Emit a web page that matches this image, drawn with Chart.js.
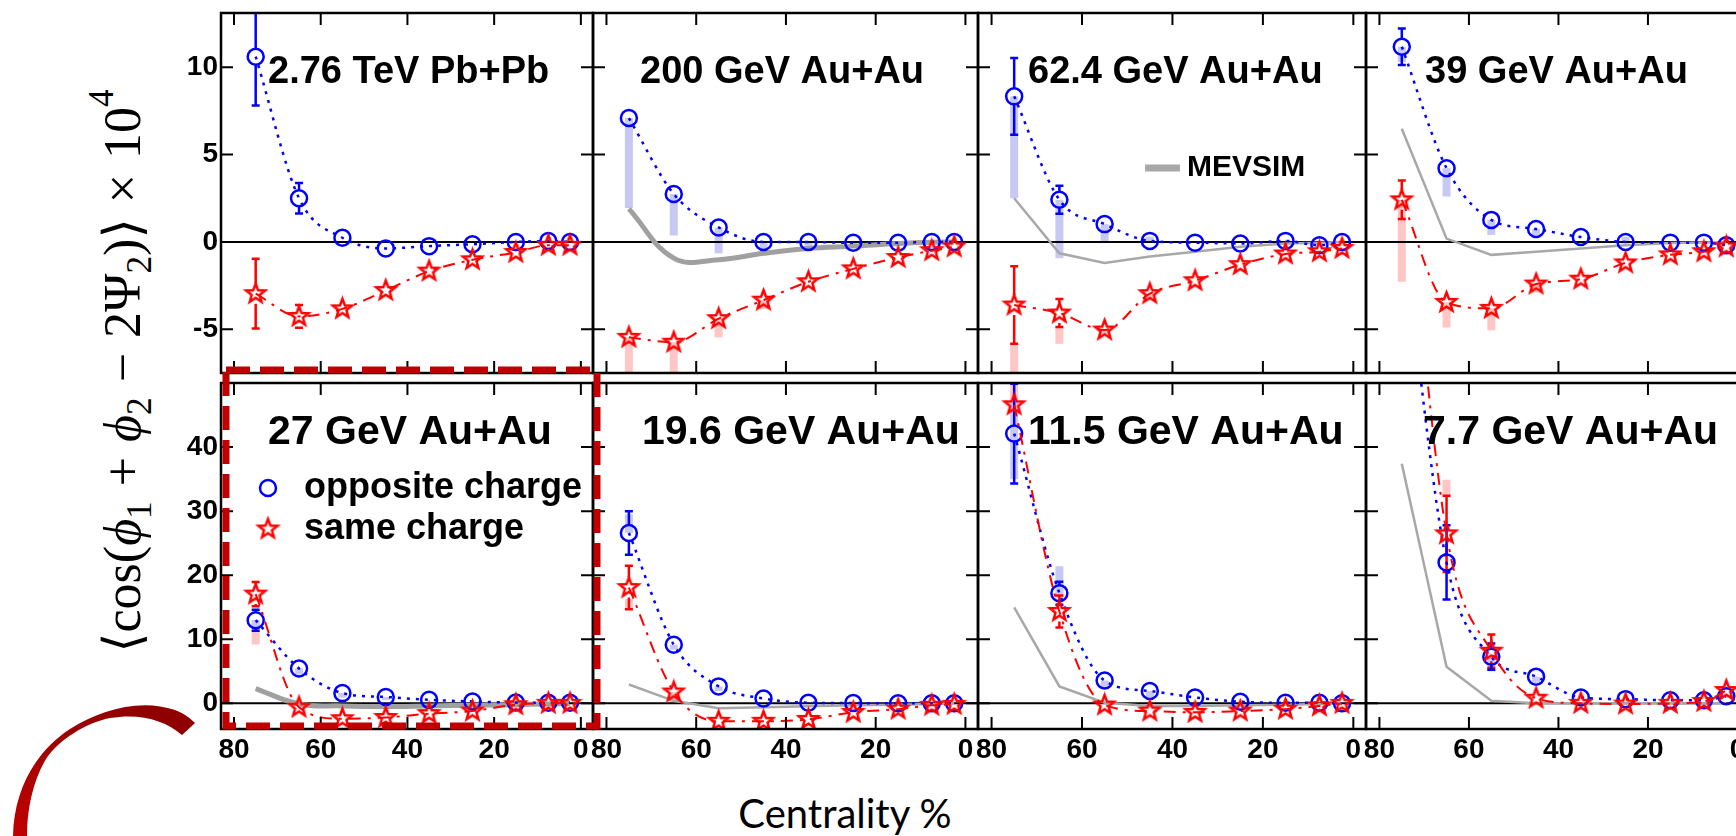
<!DOCTYPE html>
<html lang="en">
  <head>
    <meta charset="UTF-8" />
    <title>Charge-dependent azimuthal correlator vs centrality</title>
    <script src="https://cdn.jsdelivr.net/npm/chart.js@4.4.1/dist/chart.umd.min.js"></script>
    <style>
      html, body { margin: 0; padding: 0; background: #fff; overflow: hidden; }
      body { width: 1736px; height: 836px; position: relative; }
      canvas { position: absolute; }
      #ytitle {
        position: absolute; left: 120px; top: 371px;
        transform: translate(-50%, -50%) rotate(-90deg);
        font-family: "Liberation Serif", "DejaVu Serif", serif;
        font-size: 52px; white-space: nowrap; color: #000;
        word-spacing: 2px;
      }
      #ytitle sub { font-size: 0.68em; vertical-align: -0.3em; }
      #ytitle sup { font-size: 0.68em; vertical-align: 0.75em; }
      #xtitle {
        position: absolute; left: 845px; top: 813px;
        transform: translate(-50%, -50%);
        font-family: Lato, "Open Sans", sans-serif; font-size: 40px;
        white-space: nowrap; color: #000;
      }
      svg { position: absolute; left: 0; top: 0; }
    </style>
  </head>
  <body>
    <div id="panels"></div>
    <div id="ytitle">⟨cos(<i>ϕ</i><sub>1</sub> + <i>ϕ</i><sub>2</sub> − 2Ψ<sub>2</sub>)⟩ × 10<sup>4</sup></div>
    <div id="xtitle">Centrality %</div>
    <svg width="1736" height="836">
      <defs>
        <linearGradient id="arcfill" x1="0" y1="1" x2="0.6" y2="0">
          <stop offset="0" stop-color="#c00000" />
          <stop offset="1" stop-color="#900000" />
        </linearGradient>
      </defs>
      <path d="M13,836 C14,790 35,752 70,729 C100,710 140,698 175,710 C185,714 190,718 195,723 L182,735 C165,720 140,713 110,718 C85,723 60,740 48,756 C35,775 27,805 27,836 Z" fill="url(#arcfill)" />
      <rect x="226" y="370" width="371" height="356" fill="none" stroke="#c00000" stroke-width="7" stroke-dasharray="24 10" />
    </svg>
    <script>
      // centrality bins (%)
      const centrality = [75, 65, 55, 45, 35, 25, 15, 7.5, 2.5];
      const panelTitles = [
        "2.76 TeV Pb+Pb", "200 GeV Au+Au", "62.4 GeV Au+Au", "39 GeV Au+Au",
        "27 GeV Au+Au", "19.6 GeV Au+Au", "11.5 GeV Au+Au", "7.7 GeV Au+Au",
      ];
      const xTickValues = [80, 60, 40, 20, 0];
      const yTicksTop = [-5, 0, 5, 10];
      const yTicksBottom = [0, 10, 20, 30, 40];

      // opposite charge, x 10^4
      const opposite = [
        [10.6, 2.5, 0.24, -0.37, -0.24, -0.13, 0, 0.05, 0],
        [7.09, 2.74, 0.83, 0.0, 0.0, -0.05, -0.05, 0, 0],
        [8.33, 2.41, 1.02, 0.06, -0.04, -0.09, 0.06, -0.19, 0],
        [11.17, 4.22, 1.26, 0.74, 0.28, 0, -0.04, -0.04, -0.19],
        [12.98, 5.44, 1.6, 1.0, 0.55, 0.3, 0.12, 0.1, 0.1],
        [26.6, 9.16, 2.65, 0.76, 0.1, 0.05, 0, 0, 0],
        [42.1, 17.2, 3.56, 1.93, 0.92, 0.25, 0.1, 0.1, 0],
        [75, 22.0, 7.28, 4.17, 0.92, 0.66, 0.5, 0.5, 1.12],
      ];
      // same charge, x 10^4
      const same = [
        [-2.96, -4.26, -3.83, -2.78, -1.67, -1.02, -0.6, -0.19, -0.19],
        [-5.46, -5.74, -4.39, -3.33, -2.28, -1.54, -0.89, -0.5, -0.28],
        [-3.61, -4.07, -5.04, -2.96, -2.22, -1.3, -0.69, -0.56, -0.37],
        [2.41, -3.46, -3.8, -2.41, -2.13, -1.2, -0.74, -0.56, -0.28],
        [17.05, -0.6, -2.4, -2.2, -1.6, -1.2, -0.2, 0, 0],
        [18.07, 1.78, -2.8, -2.8, -2.5, -1.4, -0.9, -0.3, -0.15],
        [46.6, 14.35, -0.25, -1.2, -1.4, -1.2, -0.9, -0.4, 0],
        [90, 26.46, 8.14, 0.8, 0, -0.1, 0, 0.3, 2.0],
      ];
      // MEVSIM model
      const mevsim = [
        null,
        [1.89, -0.93, -1.02, -0.65, -0.37, -0.24, -0.09, -0.02, 0],
        [2.5, -0.65, -1.2, -0.83, -0.56, -0.28, -0.09, -0.05, 0],
        [6.48, 0.19, -0.74, -0.56, -0.37, -0.19, -0.06, -0.03, 0],
        [2.3, -0.1, -0.4, -0.5, -0.4, -0.3, -0.2, -0.1, 0],
        [2.95, 0.4, -0.76, -0.6, -0.45, -0.3, -0.2, -0.1, 0],
        [15.0, 2.65, 0.1, -0.4, -0.4, -0.3, -0.2, -0.1, 0],
        [37.4, 5.7, 0.4, 0, 0, 0, 0, 0, 0],
      ];
      // statistical errors (half width)
      const oppStat = [
        [2.8, 0.87], [], [2.2, 0.8], [1.05], [1.65], [3.4], [7.8, 1.8], [null, 5.8, 2.05],
      ];
      const sameStat = [
        [2.0, 0.65], [], [2.22, 0.8], [1.1], [1.9], [3.4], [null, 2.5], [null, 5.95, 2.6],
      ];
      // systematic bands [low, high]
      const oppSys = [
        [],
        [[1.94, 7.09], [0.37, 2.74], [-0.65, 0.83], [-0.74, 0], [-0.3, 0], [-0.3, 0]],
        [[2.5, 8.33], [-0.93, 2.41], [0, 1.02], [0, 0.3]],
        [[10.3, 11.17], [2.6, 4.22], [0.4, 1.26], [0.4, 0.74], null, [-0.1, 0.3]],
        [[11.5, 13.0], [4.5, 5.44], [0.9, 1.6], [0.5, 1.0]],
        [[26.6, 29.5], [8.4, 9.16], [1.9, 2.65]],
        [[35, 47], [16.5, 21.4], [2.5, 3.56], [1.0, 1.93]],
        [null, null, [5.0, 7.28], [3.2, 4.17]],
      ];
      const sameSys = [
        [],
        [[-7.6, -5.46], [-7.6, -5.74], [-5.46, -4.39], [-3.85, -3.33]],
        [[-7.6, -5.83], [-5.83, -4.9], [-5.3, -5.04], [-3.3, -2.96]],
        [[-2.28, 2.41], [-4.9, -3.46], [-5.06, -3.8], [-2.9, -2.41]],
        [[9.2, 13.0]],
        [[14.8, 16.3], [0, 1.78]],
        [[47, 52]],
        [null, [32.3, 34.9]],
      ];

      // panel frame geometry (px)
      const cols = [[221, 593], [593, 978], [978, 1366], [1366, 1750]];
      const rows = [[7, 377], [377, 729]];

      function makeStar(color, r, lw) {
        const size = Math.ceil(2 * r + lw + 4);
        const c = document.createElement("canvas");
        c.width = c.height = size;
        const g = c.getContext("2d");
        g.translate(size / 2, size / 2);
        g.beginPath();
        for (let k = 0; k < 10; k++) {
          const rr = k % 2 ? r * 0.42 : r;
          const a = -Math.PI / 2 + (k * Math.PI) / 5;
          g.lineTo(rr * Math.cos(a), rr * Math.sin(a));
        }
        g.closePath();
        g.lineWidth = lw;
        g.strokeStyle = color;
        g.stroke();
        return c;
      }
      const starImg = makeStar("#ff0000", 10, 2.5);

      const panelDecor = {
        id: "panelDecor",
        beforeDatasetsDraw(chart) {
          const { ctx, chartArea: a } = chart;
          const xs = chart.scales.x, ys = chart.scales.y;
          ctx.save();
          ctx.beginPath();
          ctx.rect(a.left, a.top, a.width, a.height);
          ctx.clip();
          chart.data.datasets.forEach((ds) => {
            if (!ds.sys) return;
            ctx.fillStyle = ds.sysColor;
            ds.sys.forEach((b, i) => {
              if (!b) return;
              const px = xs.getPixelForValue(ds.data[i].x);
              const p1 = ys.getPixelForValue(b[0]);
              const p2 = ys.getPixelForValue(b[1]);
              ctx.fillRect(px - 4, Math.min(p1, p2), 8, Math.abs(p2 - p1));
            });
          });
          const y0 = ys.getPixelForValue(0);
          ctx.strokeStyle = "#000";
          ctx.lineWidth = 2;
          ctx.beginPath();
          ctx.moveTo(a.left, y0);
          ctx.lineTo(a.right, y0);
          ctx.stroke();
          chart.data.datasets.forEach((ds) => {
            if (!ds.stat) return;
            ctx.strokeStyle = ds.borderColor;
            ctx.lineWidth = 2.5;
            ds.stat.forEach((e, i) => {
              if (e == null) return;
              const px = xs.getPixelForValue(ds.data[i].x);
              const pc = ys.getPixelForValue(ds.data[i].y);
              const pt = ys.getPixelForValue(ds.data[i].y + e);
              const pb = ys.getPixelForValue(ds.data[i].y - e);
              const gap = ds.pointRadius;
              ctx.beginPath();
              if (pc - gap > pt) { ctx.moveTo(px, pt); ctx.lineTo(px, pc - gap); }
              if (pc + gap < pb) { ctx.moveTo(px, pc + gap); ctx.lineTo(px, pb); }
              ctx.moveTo(px - 4, pt); ctx.lineTo(px + 4, pt);
              ctx.moveTo(px - 4, pb); ctx.lineTo(px + 4, pb);
              ctx.stroke();
            });
          });
          ctx.restore();
        },
        afterDraw(chart, args, opts) {
          const { ctx, chartArea: a } = chart;
          const xs = chart.scales.x, ys = chart.scales.y;
          ctx.save();
          ctx.strokeStyle = "#000";
          ctx.lineWidth = 2.5;
          ctx.strokeRect(a.left, a.top, a.width, a.height);
          const tl = 12;
          ctx.lineWidth = 2;
          ctx.beginPath();
          xs.ticks.forEach((t) => {
            const px = xs.getPixelForValue(t.value);
            ctx.moveTo(px, a.bottom); ctx.lineTo(px, a.bottom - tl);
            ctx.moveTo(px, a.top); ctx.lineTo(px, a.top + tl);
          });
          ys.ticks.forEach((t) => {
            const py = ys.getPixelForValue(t.value);
            ctx.moveTo(a.left, py); ctx.lineTo(a.left + tl, py);
            ctx.moveTo(a.right, py); ctx.lineTo(a.right - tl, py);
          });
          ctx.stroke();

          ctx.fillStyle = "#000";
          ctx.textBaseline = "middle";
          ctx.font = `bold ${opts.titleSize}px "Liberation Sans", Arial, sans-serif`;
          ctx.fillText(opts.title, a.left + opts.titleX, a.top + opts.titleY);

          (opts.legend || []).forEach((it) => {
            const ds = chart.data.datasets[it.ds];
            const mx = a.left + it.x, my = a.top + it.y;
            if (ds.pointStyle instanceof HTMLCanvasElement) {
              const im = ds.pointStyle;
              ctx.drawImage(im, mx - im.width / 2, my - im.height / 2);
            } else if (ds.pointRadius > 0) {
              ctx.strokeStyle = ds.borderColor;
              ctx.lineWidth = ds.pointBorderWidth;
              ctx.beginPath();
              ctx.arc(mx, my, ds.pointRadius, 0, Math.PI * 2);
              ctx.stroke();
            } else {
              ctx.strokeStyle = ds.borderColor;
              ctx.lineWidth = it.lineWidth;
              ctx.beginPath();
              ctx.moveTo(a.left + it.x, my);
              ctx.lineTo(a.left + it.x2, my);
              ctx.stroke();
            }
            ctx.fillStyle = "#000";
            ctx.font = `bold ${it.size}px "Liberation Sans", Arial, sans-serif`;
            ctx.fillText(ds.label, a.left + it.textX, my);
          });
          ctx.restore();
        },
      };

      const titleX = [47, 47, 50, 59, 47, 49, 50, 57];
      const legends = {
        2: [{ ds: 2, x: 167, x2: 202, y: 155, textX: 209, size: 30, lineWidth: 7 }],
        4: [
          { ds: 1, x: 47, y: 105, textX: 83, size: 36 },
          { ds: 0, x: 47, y: 146, textX: 83, size: 36 },
        ],
      };
      const thickMevsim = [1, 4];

      panelTitles.forEach((title, p) => {
        const c = p % 4, r = Math.floor(p / 4);
        const [L, R] = cols[c];
        const [T, B] = rows[r];
        const yW = c === 0 ? 60 : 16;
        const xH = r === 1 ? 50 : 8;
        const padT = 6, padR = 16;
        const cv = document.createElement("canvas");
        cv.width = R - L + yW + padR;
        cv.height = B - T + padT + xH;
        cv.style.left = L - yW + "px";
        cv.style.top = T - padT + "px";
        cv.style.width = cv.width + "px";
        cv.style.height = cv.height + "px";
        document.getElementById("panels").appendChild(cv);

        const pts = (arr) => centrality.map((x, i) => ({ x: x, y: arr[i] }));
        const datasets = [
          {
            label: "same charge",
            data: pts(same[p]),
            borderColor: "#ff0000",
            borderWidth: 2,
            borderDash: [12, 7, 3, 7],
            pointStyle: starImg,
            pointRadius: 10,
            cubicInterpolationMode: "monotone",
            stat: sameStat[p],
            sys: sameSys[p],
            sysColor: "#ffc6c6",
            clip: 0,
          },
          {
            label: "opposite charge",
            data: pts(opposite[p]),
            borderColor: "#0000ff",
            borderWidth: 2.5,
            borderDash: [3, 6],
            pointStyle: "circle",
            pointRadius: 8,
            pointBorderWidth: 2.5,
            pointBackgroundColor: "rgba(0,0,0,0)",
            cubicInterpolationMode: "monotone",
            stat: oppStat[p],
            sys: oppSys[p],
            sysColor: "#c8c8f4",
            clip: 0,
          },
        ];
        if (mevsim[p]) {
          const thick = thickMevsim.includes(p);
          datasets.push({
            label: "MEVSIM",
            data: pts(mevsim[p]),
            borderColor: thick ? "#a0a0a0" : "#a8a8a8",
            borderWidth: thick ? 5 : 2.5,
            pointRadius: 0,
            tension: thick ? 0.4 : 0,
            clip: 0,
          });
        }

        const tickFont = { family: "Liberation Sans", size: 28, weight: "bold" };
        new Chart(cv, {
          type: "line",
          data: { datasets: datasets },
          options: {
            responsive: false,
            animation: false,
            events: [],
            layout: { padding: { top: padT, right: padR, left: 0, bottom: 0 } },
            scales: {
              x: {
                type: "linear",
                reverse: true,
                min: -2.8,
                max: 83,
                grid: { display: false, drawTicks: false },
                border: { display: false },
                ticks: {
                  display: r === 1,
                  font: tickFont,
                  color: "#000",
                  padding: 4,
                  autoSkip: false,
                  maxRotation: 0,
                },
                afterBuildTicks: (s) => { s.ticks = xTickValues.map((v) => ({ value: v })); },
                afterFit: (s) => { s.height = xH; s.paddingLeft = 0; s.paddingRight = 0; },
              },
              y: {
                type: "linear",
                min: r === 0 ? -7.5 : -4,
                max: r === 0 ? 13.1 : 50,
                grid: { display: false, drawTicks: false },
                border: { display: false },
                ticks: {
                  display: c === 0,
                  font: tickFont,
                  color: "#000",
                  padding: 3,
                  autoSkip: false,
                },
                afterBuildTicks: (s) => {
                  s.ticks = (r === 0 ? yTicksTop : yTicksBottom).map((v) => ({ value: v }));
                },
                afterFit: (s) => { s.width = yW; s.paddingTop = 0; s.paddingBottom = 0; },
              },
            },
            plugins: {
              legend: { display: false },
              tooltip: { enabled: false },
              panelDecor: {
                title: title,
                titleSize: r === 0 ? 38 : 41,
                titleX: titleX[p],
                titleY: r === 0 ? 60 : 50,
                legend: legends[p],
              },
            },
          },
          plugins: [panelDecor],
        });
      });
    </script>
  </body>
</html>
